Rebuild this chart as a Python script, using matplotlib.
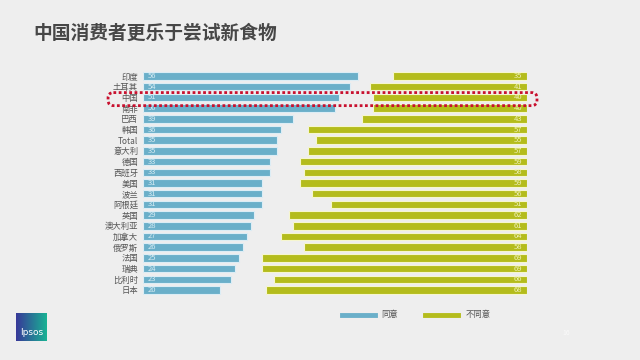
import numpy as np
import matplotlib.pyplot as plt
from matplotlib.lines import Line2D
from matplotlib.patches import FancyBboxPatch

plt.rcParams['font.family'] = ['Noto Sans CJK SC', 'DejaVu Sans']

countries = ['印度', '土耳其', '中国', '南非', '巴西', '韩国', 'Total', '意大利', '德国', '西班牙',
             '美国', '波兰', '阿根廷', '英国', '澳大利亚', '加拿大', '俄罗斯', '法国', '瑞典', '比利时', '日本']
agree = [56, 54, 51, 50, 39, 36, 35, 35, 33, 33, 31, 31, 31, 29, 28, 27, 26, 25, 24, 23, 20]
disagree = [35, 41, 40, 40, 43, 57, 55, 57, 59, 58, 59, 56, 51, 62, 61, 64, 58, 69, 69, 66, 68]

blue = '#6aafc9'
green = '#b4bc1c'
bg = '#eeeeee'

fig = plt.figure(figsize=(6.4, 3.6), dpi=100)
fig.patch.set_facecolor(bg)

fig.text(33 / 640, 1 - 33 / 360, '中国消费者更乐于尝试新食物', fontsize=13.5, fontweight='bold',
         color='#474747', va='center', ha='left')

ax = fig.add_axes([143 / 640, 1 - 295.35 / 360, 384 / 640, 224.7 / 360])
ax.set_facecolor('none')

y = np.arange(len(countries))
ax.barh(y, agree, height=0.7, color=blue, edgecolor='#dcedf5', linewidth=0.8)
left = [100 - d for d in disagree]
ax.barh(y, disagree, left=left, height=0.7, color=green, edgecolor='#f6f6cf', linewidth=0.8)

for i in range(len(countries)):
    ax.text(1.2, i, str(agree[i]), fontsize=5.5, color='#d6ebf3', va='center', ha='left')
    ax.text(98.8, i, str(disagree[i]), fontsize=5.5, color='#eef0b8', va='center', ha='right')

ax.set_xlim(0, 100)
ax.set_ylim(len(countries) - 0.5, -0.5)
ax.set_yticks(y)
ax.set_yticklabels(countries, fontsize=6, color='#555555')
ax.tick_params(axis='y', length=0, pad=3.5)
ax.set_xticks([])
for s in ax.spines.values():
    s.set_visible(False)

# red dotted highlight around China row
box = FancyBboxPatch((-9.1, 1.55), 111.7, 1.22, boxstyle='round,pad=0,rounding_size=1.4',
                     mutation_aspect=0.36, fill=False, edgecolor='#c8102e', linewidth=2,
                     linestyle=(0, (1, 0.9)), clip_on=False, zorder=5)
ax.add_patch(box)

handles = [Line2D([], [], color=blue, linewidth=3.5), Line2D([], [], color=green, linewidth=3.5)]
fig.legend(handles, ['同意', '不同意'], loc='center', bbox_to_anchor=(416 / 640, 1 - 315 / 360),
           ncol=2, frameon=False, fontsize=6, handlelength=4, handletextpad=0.8,
           columnspacing=3.2, labelcolor='#555555')

# Ipsos logo
lax = fig.add_axes([16 / 640, 1 - 341 / 360, 31 / 640, 28 / 360])
grad = np.linspace(0, 1, 64)
c0 = np.array([0.22, 0.22, 0.60])
c1 = np.array([0.10, 0.70, 0.58])
img = c0[None, None, :] * (1 - grad[None, :, None]) + c1[None, None, :] * grad[None, :, None]
img = np.repeat(img, 32, axis=0)
lax.imshow(img, aspect='auto', extent=(0, 1, 0, 1))
lax.text(0.5, 0.3, 'Ipsos', color='white', fontsize=6.5, ha='center', va='center', family='DejaVu Sans')
lax.set_axis_off()

fig.text(566 / 640, 1 - 333 / 360, '16', fontsize=5, color='#fafafa', ha='center', va='center')

fig.savefig('out.png', dpi=100, facecolor=fig.get_facecolor())
